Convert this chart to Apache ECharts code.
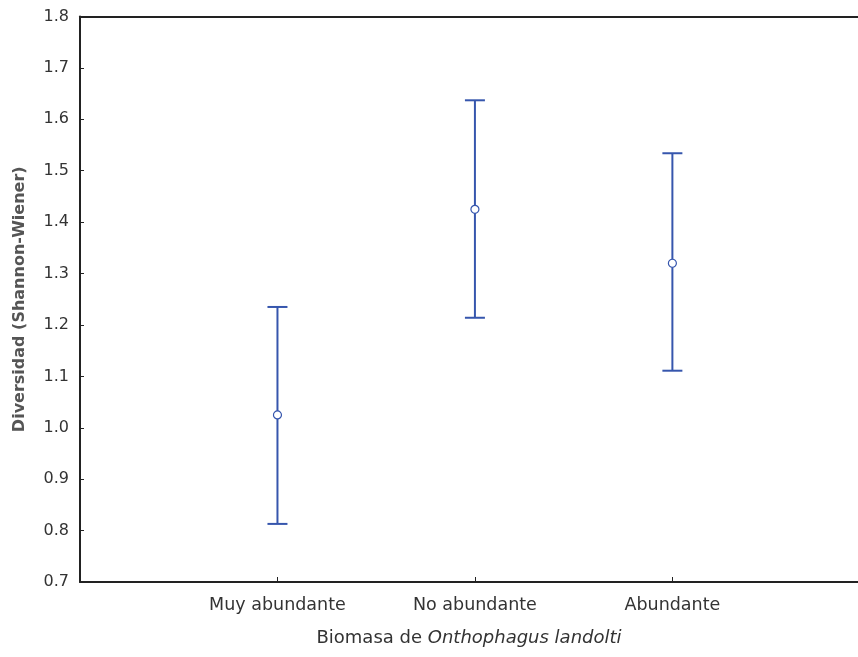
<!DOCTYPE html>
<html>
<head>
<meta charset="utf-8">
<script src="https://cdn.jsdelivr.net/npm/echarts@6/dist/echarts.min.js"></script>
<style>
html,body{margin:0;padding:0;background:#fff;}
#chart{width:858px;height:657px;}
</style>
</head>
<body>
<div id="chart"></div>
<script>
const categories = ['Muy abundante', 'No abundante', 'Abundante'];
const means = [1.025, 1.425, 1.320];
const lower = [0.813, 1.214, 1.111];
const upper = [1.235, 1.637, 1.534];
const yTicks = [0.7, 0.8, 0.9, 1.0, 1.1, 1.2, 1.3, 1.4, 1.5, 1.6, 1.7, 1.8];

const barColor = '#3656ad';
const font = 'DejaVu Sans';

const errData = categories.map((c, i) => [i + 1, lower[i], upper[i]]);
const meanData = categories.map((c, i) => [i + 1, means[i]]);

const chart = echarts.init(document.getElementById('chart'), null, {renderer: 'canvas'});
chart.setOption({
  animation: false,
  backgroundColor: '#fff',
  grid: {left: 80, top: 16.5, bottom: 75, right: 0, show: false},
  xAxis: [{
    type: 'value', min: 0, max: 3.94, interval: 1,
    splitLine: {show: false},
    axisLine: {show: true, lineStyle: {color: '#222', width: 2}},
    axisTick: {show: true, inside: true, length: 5, lineStyle: {color: '#222', width: 1}},
    axisLabel: {
      margin: 14, color: '#333', fontFamily: font, fontSize: 17.5,
      showMaxLabel: false,
      formatter: v => categories[Math.round(v) - 1] && Math.abs(v - Math.round(v)) < 1e-6 ? categories[Math.round(v) - 1] : ''
    },
    name: '{a|Biomasa de }{b|Onthophagus landolti}',
    nameLocation: 'middle', nameGap: 47,
    nameTextStyle: {
      rich: {
        a: {fontFamily: font, fontSize: 18, color: '#333'},
        b: {fontFamily: font, fontSize: 18, color: '#333', fontStyle: 'italic'}
      }
    }
  }, {
    type: 'value', min: 0, max: 3.94, position: 'top',
    splitLine: {show: false},
    axisLine: {show: true, onZero: false, lineStyle: {color: '#222', width: 2}},
    axisTick: {show: false},
    axisLabel: {show: false}
  }],
  yAxis: {
    type: 'value', min: 0.7, max: 1.8, interval: 0.1,
    splitLine: {show: false},
    axisLine: {show: true, lineStyle: {color: '#222', width: 2}},
    axisTick: {show: true, inside: true, length: 4, lineStyle: {color: '#222', width: 1}},
    axisLabel: {
      margin: 11, color: '#333', fontFamily: font, fontSize: 16,
      formatter: v => {
        const t = yTicks.find(k => Math.abs(k - v) < 1e-6);
        return t !== undefined ? t.toFixed(1) : '';
      }
    },
    name: 'Diversidad (Shannon-Wiener)',
    nameLocation: 'middle', nameGap: 52, nameRotate: 90,
    nameTextStyle: {fontFamily: font, fontSize: 16, fontWeight: 'bold', color: '#555'}
  },
  series: [
    {
      type: 'custom',
      data: errData,
      encode: {x: 0, y: [1, 2]},
      renderItem: function (params, api) {
        const x = api.value(0);
        const lo = api.coord([x, api.value(1)]);
        const hi = api.coord([x, api.value(2)]);
        const hw = 10;
        const style = {stroke: barColor, lineWidth: 2};
        return {
          type: 'group',
          children: [
            {type: 'line', shape: {x1: lo[0], y1: lo[1], x2: hi[0], y2: hi[1]}, style: style},
            {type: 'line', shape: {x1: lo[0] - hw, y1: lo[1], x2: lo[0] + hw, y2: lo[1]}, style: style},
            {type: 'line', shape: {x1: hi[0] - hw, y1: hi[1], x2: hi[0] + hw, y2: hi[1]}, style: style}
          ]
        };
      },
      z: 2
    },
    {
      type: 'scatter',
      data: meanData,
      symbol: 'circle',
      symbolSize: 8,
      itemStyle: {color: '#fff', borderColor: barColor, borderWidth: 1.2, opacity: 1},
      z: 3
    }
  ]
});
</script>
</body>
</html>
